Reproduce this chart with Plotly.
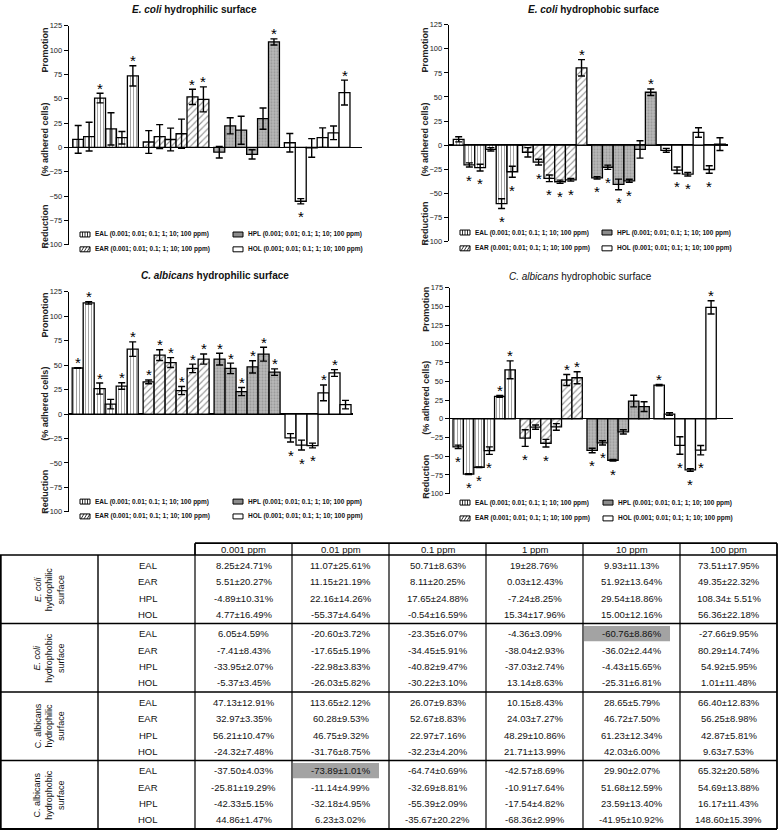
import numpy as np
import plotly.graph_objects as go

W, H = 778, 836
FONT = "Liberation Sans, Arial, sans-serif"

CONC = ["0.001 ppm", "0.01 ppm", "0.1 ppm", "1 ppm", "10 ppm", "100 ppm"]
EXTRACTS = ["EAL", "EAR", "HPL", "HOL"]
N_REPL = 3  # error bars drawn as SEM = SD / sqrt(n)

# ---------- E. coli, hydrophilic surface (mean % , SD %) ----------
EC_PHIL_EAL_M = [8.25, 11.07, 50.71, 19.00, 9.93, 73.51]
EC_PHIL_EAL_S = [24.71, 25.61, 8.63, 28.76, 11.13, 17.95]
EC_PHIL_EAR_M = [5.51, 11.15, 8.11, 0.03, 51.92, 49.35]
EC_PHIL_EAR_S = [20.27, 21.19, 20.25, 12.43, 13.64, 22.32]
EC_PHIL_HPL_M = [-4.89, 22.16, 17.65, -7.24, 29.54, 108.34]
EC_PHIL_HPL_S = [10.31, 14.26, 24.88, 8.25, 18.86, 5.51]
EC_PHIL_HOL_M = [4.77, -55.37, -0.54, 15.34, 15.00, 56.36]
EC_PHIL_HOL_S = [16.49, 4.64, 16.59, 17.96, 12.16, 22.18]

# ---------- E. coli, hydrophobic surface ----------
EC_PHOB_EAL_M = [6.05, -20.60, -23.35, -4.36, -60.76, -27.66]
EC_PHOB_EAL_S = [4.59, 3.72, 6.07, 3.09, 8.86, 9.95]
EC_PHOB_EAR_M = [-7.41, -17.65, -34.45, -38.04, -36.02, 80.29]
EC_PHOB_EAR_S = [8.43, 5.19, 5.91, 2.93, 2.44, 14.74]
EC_PHOB_HPL_M = [-33.95, -22.98, -40.82, -37.03, -4.43, 54.92]
EC_PHOB_HPL_S = [2.07, 3.83, 9.47, 2.74, 15.65, 5.95]
EC_PHOB_HOL_M = [-5.37, -26.03, -30.22, 13.14, -25.31, 1.01]
EC_PHOB_HOL_S = [3.45, 5.82, 3.10, 8.63, 6.81, 11.48]

# ---------- C. albicans, hydrophilic surface ----------
CA_PHIL_EAL_M = [47.13, 113.65, 26.07, 10.15, 28.65, 66.40]
CA_PHIL_EAL_S = [12.91, 2.12, 9.83, 8.43, 5.79, 12.83]
CA_PHIL_EAR_M = [32.97, 60.28, 52.67, 24.03, 46.72, 56.25]
CA_PHIL_EAR_S = [3.35, 9.53, 8.83, 7.27, 7.50, 8.98]
CA_PHIL_HPL_M = [56.21, 46.75, 22.97, 48.29, 61.23, 42.87]
CA_PHIL_HPL_S = [10.47, 9.32, 7.16, 10.86, 12.34, 5.81]
CA_PHIL_HOL_M = [-24.32, -31.76, -32.23, 21.71, 42.03, 9.63]
CA_PHIL_HOL_S = [7.48, 8.75, 4.20, 13.99, 6.00, 7.53]

# ---------- C. albicans, hydrophobic surface ----------
CA_PHOB_EAL_M = [-37.50, -73.89, -64.74, -42.57, 29.90, 65.32]
CA_PHOB_EAL_S = [4.03, 1.01, 0.69, 8.69, 2.07, 20.58]
CA_PHOB_EAR_M = [-25.81, -11.14, -32.69, -10.91, 51.68, 54.69]
CA_PHOB_EAR_S = [19.29, 4.99, 8.81, 7.64, 12.59, 13.88]
CA_PHOB_HPL_M = [-42.33, -32.18, -55.39, -17.54, 23.59, 16.17]
CA_PHOB_HPL_S = [5.15, 4.95, 2.09, 4.82, 13.40, 11.43]
CA_PHOB_HOL_M = [44.86, 6.23, -35.67, -68.36, -41.95, 148.60]
CA_PHOB_HOL_S = [1.47, 3.02, 20.22, 2.99, 10.92, 15.39]

# bars in the charts that are drawn differently from the table (mean, error half-length)
CHART_OVERRIDE = {("ec_phil", "EAR", 3): (14.0, 15.0),
                  ("ec_phil", "HOL", 3): (10.0, 10.0),
                  ("ca_phil", "EAL", 0): (47.13, 0.4)}
# table texts printed differently from the plain format
LABEL_OVERRIDE = {("ec_phil", "EAL", 3): "19±28.76%",
                  ("ec_phil", "HPL", 5): "108.34± 5.51%"}

# significance stars (indices of concentrations)
STARS_EC_PHIL = {"EAL": [2, 5], "EAR": [4, 5], "HPL": [5], "HOL": [1, 5]}
STARS_EC_PHOB = {"EAL": [1, 2, 4, 5], "EAR": [1, 2, 3, 4, 5], "HPL": [0, 1, 2, 3, 5], "HOL": [1, 2, 4]}
STARS_CA_PHIL = {"EAL": [0, 1, 2, 4, 5], "EAR": [0, 1, 2, 3, 4, 5], "HPL": [0, 1, 2, 3, 4, 5], "HOL": [0, 1, 2, 3, 4]}
STARS_CA_PHOB = {"EAL": [0, 1, 2, 3, 4, 5], "EAR": [0, 2, 4, 5], "HPL": [0, 1, 2], "HOL": [0, 2, 3, 4, 5]}

# highlighted table cells: (panel, extract, conc index)
HIGHLIGHT = [("ec_phob", "EAL", 4), ("ca_phob", "EAL", 1)]

LEGEND_TEXT = "(0.001; 0.01; 0.1; 1; 10; 100 ppm)"

# ---------------- assemble ----------------
DATA = {
    "ec_phil": ({"EAL": EC_PHIL_EAL_M, "EAR": EC_PHIL_EAR_M, "HPL": EC_PHIL_HPL_M, "HOL": EC_PHIL_HOL_M},
                {"EAL": EC_PHIL_EAL_S, "EAR": EC_PHIL_EAR_S, "HPL": EC_PHIL_HPL_S, "HOL": EC_PHIL_HOL_S}),
    "ec_phob": ({"EAL": EC_PHOB_EAL_M, "EAR": EC_PHOB_EAR_M, "HPL": EC_PHOB_HPL_M, "HOL": EC_PHOB_HOL_M},
                {"EAL": EC_PHOB_EAL_S, "EAR": EC_PHOB_EAR_S, "HPL": EC_PHOB_HPL_S, "HOL": EC_PHOB_HOL_S}),
    "ca_phil": ({"EAL": CA_PHIL_EAL_M, "EAR": CA_PHIL_EAR_M, "HPL": CA_PHIL_HPL_M, "HOL": CA_PHIL_HOL_M},
                {"EAL": CA_PHIL_EAL_S, "EAR": CA_PHIL_EAR_S, "HPL": CA_PHIL_HPL_S, "HOL": CA_PHIL_HOL_S}),
    "ca_phob": ({"EAL": CA_PHOB_EAL_M, "EAR": CA_PHOB_EAR_M, "HPL": CA_PHOB_HPL_M, "HOL": CA_PHOB_HOL_M},
                {"EAL": CA_PHOB_EAL_S, "EAR": CA_PHOB_EAR_S, "HPL": CA_PHOB_HPL_S, "HOL": CA_PHOB_HOL_S}),
}

PANELS = [
    dict(key="ec_phil", title="<b><i>E. coli</i> hydrophilic surface</b>", stars=STARS_EC_PHIL,
         xdom=(69, 362), ydom=(22, 243.3), yr=(-100, 125), xr=(-0.84, 25.95), tpos=(195, 6),
         ylx=45, yly=(47, 137, 225), lgx=(80, 233), lgy=(233, 248)),
    dict(key="ec_phob", title="<b><i>E. coli</i> hydrophobic surface</b>", stars=STARS_EC_PHOB,
         xdom=(449, 728), ydom=(21, 240), yr=(-100, 125), xr=(-0.9, 25.1), tpos=(594, 6),
         ylx=425, yly=(47, 137, 222), lgx=(460, 602), lgy=(231, 247)),
    dict(key="ca_phil", title="<b><i>C. albicans</i> hydrophilic surface</b>", stars=STARS_CA_PHIL,
         xdom=(69, 353), ydom=(291, 513.3), yr=(-100, 125), xr=(-0.79, 25.03), tpos=(215, 274),
         ylx=45, yly=(315, 404, 493), lgx=(80, 233), lgy=(503, 518)),
    dict(key="ca_phob", title="<i>C. albicans</i> hydrophobic surface", stars=STARS_CA_PHOB,
         xdom=(450, 733.3), ydom=(286.7, 495), yr=(-100, 175), xr=(-0.79, 26.49), tpos=(580, 275),
         ylx=426, yly=(309, 398, 478), lgx=(460, 603), lgy=(504, 520)),
]

GROUP_PITCH = 6.45

STYLE = {
    "EAL": dict(color="white", line=dict(color="black", width=1.3),
                pattern=dict(shape="|", size=3, solidity=0.3, fgcolor="#333", bgcolor="white")),
    "EAR": dict(color="white", line=dict(color="black", width=1.3),
                pattern=dict(shape="/", size=4.5, solidity=0.25, fgcolor="#222", bgcolor="white")),
    "HPL": dict(color="#a9a9a9", line=dict(color="black", width=1.3),
                pattern=dict(shape=".", size=3, solidity=0.35, fgcolor="#777", bgcolor="#b8b8b8")),
    "HOL": dict(color="white", line=dict(color="black", width=1.3)),
}


def fx(x):
    return x / W


def fy(y):
    return 1 - y / H


fig = go.Figure()
annotations = []
shapes = []

for k, p in enumerate(PANELS, start=1):
    sfx = "" if k == 1 else str(k)
    xa, ya = "x" + sfx, "y" + sfx
    means, sds = DATA[p["key"]]
    for j, ext in enumerate(EXTRACTS):
        xs, ys, es = [], [], []
        for i in range(6):
            m = means[ext][i]
            e = sds[ext][i] / np.sqrt(N_REPL)
            if (p["key"], ext, i) in CHART_OVERRIDE:
                m, e = CHART_OVERRIDE[(p["key"], ext, i)]
            xs.append(j * GROUP_PITCH + i)
            ys.append(m)
            es.append(e)
        fig.add_trace(go.Bar(
            x=xs, y=ys, width=1, xaxis=xa, yaxis=ya, name=ext, showlegend=False,
            marker=STYLE[ext],
            error_y=dict(type="data", array=es, visible=True, color="black", thickness=1.4, width=3.5),
        ))
        for i in p["stars"][ext]:
            up = ys[i] >= 0
            annotations.append(dict(
                x=xs[i], y=ys[i] + es[i] if up else ys[i] - es[i], xref=xa, yref=ya,
                text="*", showarrow=False, yanchor="middle", xanchor="center",
                yshift=5 if up else -13, font=dict(size=15, color="black", family=FONT)))

    x0, x1 = p["xdom"]
    y0, y1 = p["ydom"]
    top = p["yr"][1]
    fig.update_layout(**{
        "xaxis" + sfx: dict(domain=[fx(x0), fx(x1)], range=list(p["xr"]), visible=False,
                            anchor=ya, fixedrange=True),
        "yaxis" + sfx: dict(domain=[fy(y1), fy(y0)], range=list(p["yr"]), anchor=xa,
                            tickvals=list(range(-100, top + 1, 25)), ticks="outside", ticklen=4,
                            tickwidth=1, tickcolor="black", showline=True, linewidth=1.3,
                            linecolor="black", showgrid=False, zeroline=True,
                            zerolinecolor="black", zerolinewidth=1.3, fixedrange=True,
                            tickfont=dict(size=7.5, color="#222", family=FONT)),
    })
    # title
    annotations.append(dict(x=fx(p["tpos"][0]), y=fy(p["tpos"][1]), xref="paper", yref="paper",
                            text=p["title"], showarrow=False, xanchor="center", yanchor="middle",
                            font=dict(size=10, color="#111", family=FONT)))
    # y-axis labels
    for txt, yy in zip(["Promotion", "(% adhered cells)", "Reduction"], p["yly"]):
        annotations.append(dict(x=fx(p["ylx"]), y=fy(yy), xref="paper", yref="paper",
                                text="<b>" + txt + "</b>", textangle=-90, showarrow=False,
                                xanchor="center", yanchor="middle",
                                font=dict(size=9, color="#222", family=FONT)))
    # legend (2 x 2)
    order = [("EAL", 0, 0), ("EAR", 0, 1), ("HPL", 1, 0), ("HOL", 1, 1)]
    for ext, c, r in order:
        sx = p["lgx"][c]
        sy = p["lgy"][r]
        fill = "#8c8c8c" if ext == "HPL" else "white"
        shapes.append(dict(type="rect", xref="paper", yref="paper", x0=fx(sx), x1=fx(sx + 10),
                           y0=fy(sy + 2.5), y1=fy(sy - 2.5), fillcolor=fill,
                           line=dict(color="black", width=1)))
        if ext == "EAL":
            for dx in (2.5, 5, 7.5):
                shapes.append(dict(type="line", xref="paper", yref="paper", x0=fx(sx + dx), x1=fx(sx + dx),
                                   y0=fy(sy + 2.5), y1=fy(sy - 2.5), line=dict(color="black", width=0.8)))
        if ext == "EAR":
            for dx in (1, 4, 7):
                shapes.append(dict(type="line", xref="paper", yref="paper", x0=fx(sx + dx), x1=fx(sx + dx + 3),
                                   y0=fy(sy + 2.5), y1=fy(sy - 2.5), line=dict(color="black", width=0.8)))
        annotations.append(dict(x=fx(sx + 13), y=fy(sy), xref="paper", yref="paper",
                                text="<b>%s %s</b>" % (ext, LEGEND_TEXT), showarrow=False,
                                xanchor="left", yanchor="middle",
                                font=dict(size=6.5, color="#111", family=FONT)))

# ---------------- table ----------------
COLS = [195, 292, 389, 486, 583, 680, 777]
HEAD_T, HEAD_B = 545, 557
GROUP_H = 69.25
ROW_OFF = [10.5, 27, 43.5, 60]
BODY_B = HEAD_B + 4 * GROUP_H
GROUP_LABELS = ["<i>E. coli</i><br>hydrophilic<br>surface", "<i>E. coli</i><br>hydrophobic<br>surface",
                "C. albicans<br>hydrophilic<br>surface", "C. albicans<br>hydrophobic<br>surface"]
TABLE_ORDER = ["ec_phil", "ec_phob", "ca_phil", "ca_phob"]
TF = dict(size=9.5, color="#111", family=FONT)


def hline(x0, x1, y, w=1.0):
    shapes.append(dict(type="line", xref="paper", yref="paper", x0=fx(x0), x1=fx(x1), y0=fy(y), y1=fy(y),
                       line=dict(color="black", width=w)))


def vline(x, y0, y1, w=1.0):
    shapes.append(dict(type="line", xref="paper", yref="paper", x0=fx(x), x1=fx(x), y0=fy(y0), y1=fy(y1),
                       line=dict(color="black", width=w)))


# highlighted cells first (under text)
for key, ext, ci in HIGHLIGHT:
    g = TABLE_ORDER.index(key)
    r = EXTRACTS.index(ext)
    cy = HEAD_B + g * GROUP_H + ROW_OFF[r]
    shapes.append(dict(type="rect", xref="paper", yref="paper", x0=fx(COLS[ci] + 1), x1=fx(COLS[ci + 1] - 10),
                       y0=fy(cy + 7.5), y1=fy(max(cy - 8, HEAD_B + g * GROUP_H + 1)),
                       fillcolor="#a3a3a3", line=dict(width=0), layer="below"))

# header
hline(COLS[0], COLS[-1], HEAD_T, 1.8)
for c, lab in enumerate(CONC):
    annotations.append(dict(x=fx((COLS[c] + COLS[c + 1]) / 2), y=fy((HEAD_T + HEAD_B) / 2), xref="paper",
                            yref="paper", text=lab, showarrow=False, xanchor="center", yanchor="middle", font=TF))
for x in COLS:
    vline(x, HEAD_T, HEAD_B, 1.8 if x in (COLS[0], COLS[-1]) else 1.2)

# body frame
hline(0, COLS[-1], HEAD_B, 1.6)
hline(0, COLS[-1], BODY_B, 1.8)
vline(0.8, HEAD_B, BODY_B, 1.8)
vline(COLS[-1], HEAD_B, BODY_B, 1.8)
vline(98, HEAD_B, BODY_B, 1.4)
for x in COLS[:-1]:
    vline(x, HEAD_B, BODY_B, 1.2)
for g in range(1, 4):
    hline(0, COLS[-1], HEAD_B + g * GROUP_H, 1.4)

for g, key in enumerate(TABLE_ORDER):
    gt = HEAD_B + g * GROUP_H
    means, sds = DATA[key]
    annotations.append(dict(x=fx(49), y=fy(gt + GROUP_H / 2), xref="paper", yref="paper",
                            text=GROUP_LABELS[g], textangle=-90, showarrow=False, xanchor="center",
                            yanchor="middle", font=dict(size=9, color="#111", family=FONT)))
    for r, ext in enumerate(EXTRACTS):
        cy = gt + ROW_OFF[r]
        annotations.append(dict(x=fx(148), y=fy(cy), xref="paper", yref="paper", text=ext, showarrow=False,
                                xanchor="center", yanchor="middle", font=TF))
        for c in range(6):
            lab = LABEL_OVERRIDE.get((key, ext, c), "%.2f±%.2f%%" % (means[ext][c], sds[ext][c]))
            annotations.append(dict(x=fx((COLS[c] + COLS[c + 1]) / 2), y=fy(cy), xref="paper", yref="paper",
                                    text=lab, showarrow=False, xanchor="center", yanchor="middle", font=TF))

fig.update_layout(width=W, height=H, margin=dict(l=0, r=0, t=0, b=0), autosize=False,
                  paper_bgcolor="white", plot_bgcolor="white", showlegend=False, bargap=0,
                  font=dict(family=FONT), annotations=annotations, shapes=shapes)
fig.write_html("out.html", config={"displayModeBar": False, "staticPlot": True},
               post_script="document.body.style.margin='0px';document.body.style.padding='0px';"
                           "document.body.style.overflow='hidden';")
